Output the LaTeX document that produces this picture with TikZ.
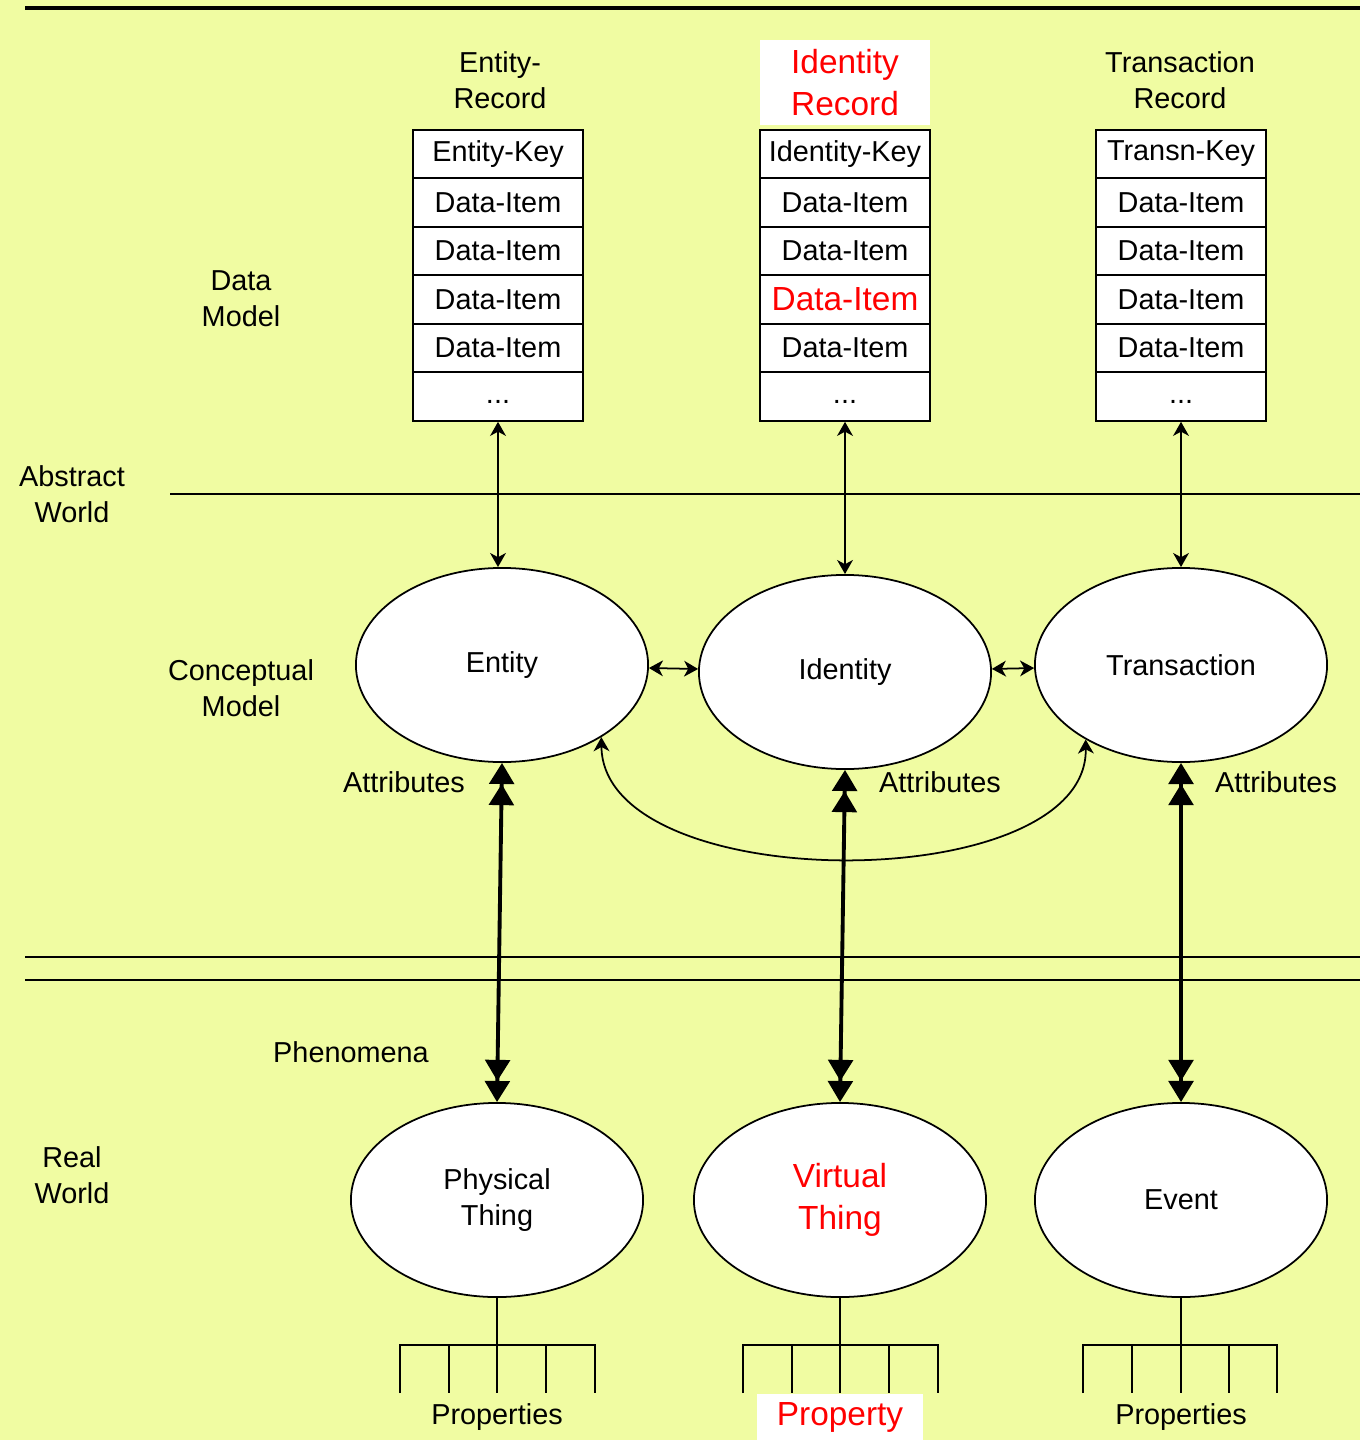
\documentclass[tikz,border=0pt]{standalone}
\usepackage{fontspec}
\setmainfont{Liberation Sans}
\usetikzlibrary{shapes.geometric,arrows.meta}
\definecolor{bgyellow}{RGB}{240,252,162}
\definecolor{hired}{RGB}{255,0,0}
\tikzset{
  cell/.style={draw=black, line width=0.6pt, fill=white, minimum width=1.7cm,
    minimum height=0.485cm, inner sep=0pt, font=\fontsize{8.2}{10.2}\selectfont},
  dotcell/.style={cell, text height=1.3mm, text depth=0mm},
  blob/.style={ellipse, draw=black, line width=0.5pt, fill=white, minimum width=2.92cm,
    minimum height=1.94cm, inner sep=0pt, align=center, font=\fontsize{8.2}{10.2}\selectfont},
  lbl/.style={align=center, inner sep=0pt, font=\fontsize{8.2}{10.2}\selectfont},
  redlbl/.style={align=center, inner sep=0pt, text=hired, fill=white,
    font=\fontsize{9.5}{12}\selectfont},
  thinlink/.style={line width=0.5pt,
    arrows={Stealth[length=4pt,width=4.5pt,inset=1.2pt]-Stealth[length=4pt,width=4.5pt,inset=1.2pt]}},
  thicklink/.style={line width=1.1pt,
    arrows={Triangle[length=6pt,width=7pt]Triangle[length=6pt,width=7pt]-Triangle[length=6pt,width=7pt]Triangle[length=6pt,width=7pt]}},
  rule/.style={line width=0.6pt}
}
\begin{document}
\begin{tikzpicture}[x=0.01cm, y=0.01cm]
\useasboundingbox (0,0) rectangle (1360,-1440);
\fill [bgyellow] (0,0) rectangle (1360,-1440);
% rules
\draw [rule, line width=0.9pt] (25,-8) -- (1360,-8);
\draw [rule] (170,-494) -- (1360,-494);
\draw [rule] (25,-957) -- (1360,-957);
\draw [rule] (25,-980) -- (1360,-980);
% side labels
\node [lbl] (datamodel) at (241,-299) {Data\\Model};
\node [lbl] (abstract) at (72,-494) {Abstract\\World};
\node [lbl] (conceptual) at (241,-688) {Conceptual\\Model};
\node [lbl] (realworld) at (72,-1175) {Real\\World};
\node [lbl] (phenomena) at (351,-1052) {Phenomena};
% record titles
\node [lbl] (enttitle) at (500,-80) {Entity-\\Record};
\node [redlbl, minimum width=1.7cm, minimum height=0.85cm] (idtitle) at (845,-82.5) {Identity\\Record};
\node [lbl] (trtitle) at (1180,-80) {Transaction\\Record};
% entity record
\node [cell] (entkey) at (498,-154) {Entity-Key};
\node [cell] (entd1) at (498,-202.5) {Data-Item};
\node [cell] (entd2) at (498,-251) {Data-Item};
\node [cell] (entd3) at (498,-299.5) {Data-Item};
\node [cell] (entd4) at (498,-348) {Data-Item};
\node [dotcell] (entdots) at (498,-396.5) {...};
% identity record
\node [cell] (idkey) at (845,-154) {Identity-Key};
\node [cell] (idd1) at (845,-202.5) {Data-Item};
\node [cell] (idd2) at (845,-251) {Data-Item};
\node [cell, text=hired, font=\fontsize{9.5}{12}\selectfont] (idd3) at (845,-299.5) {Data-Item};
\node [cell] (idd4) at (845,-348) {Data-Item};
\node [dotcell] (iddots) at (845,-396.5) {...};
% transaction record
\node [cell] (trkey) at (1181,-154) {Transn-Key};
\node [cell] (trd1) at (1181,-202.5) {Data-Item};
\node [cell] (trd2) at (1181,-251) {Data-Item};
\node [cell] (trd3) at (1181,-299.5) {Data-Item};
\node [cell] (trd4) at (1181,-348) {Data-Item};
\node [dotcell] (trdots) at (1181,-396.5) {...};
% conceptual model
\node [blob] (ent) at (502,-665) {Entity};
\node [blob] (ident) at (845,-672) {Identity};
\node [blob] (trans) at (1181,-665) {Transaction};
% real world
\node [blob] (phys) at (497,-1200) {Physical\\Thing};
\node [blob, text=hired, font=\fontsize{9.5}{12}\selectfont] (virt) at (840,-1200) {Virtual\\Thing};
\node [blob] (event) at (1181,-1200) {Event};
% attribute labels
\node [lbl] (entattr) at (404,-782) {Attributes};
\node [lbl] (idattr) at (940,-782) {Attributes};
\node [lbl] (trattr) at (1276,-782) {Attributes};
% record to concept
\draw [thinlink] (entdots.south) -- (entdots.south |- ent.north);
\draw [thinlink] (iddots.south) -- (ident.north);
\draw [thinlink] (trdots.south) -- (trans.north);
\draw [thinlink] (ent) -- (ident);
\draw [thinlink] (ident) -- (trans);
\draw [thinlink] (ent.-36) .. controls (603,-898) and (1088,-898) .. (trans.-142);
% concept to phenomena
\draw [thicklink] (ent.south) -- (phys.north);
\draw [thicklink] (ident.south) -- (virt.north);
\draw [thicklink] (trans.south) -- (event.north);
% properties
\draw [rule] (phys.south) -- (497,-1345);
\draw [rule] (400,-1393) -- (400,-1345) -- (595,-1345) -- (595,-1393);
\draw [rule] (449,-1345) -- (449,-1393);
\draw [rule] (497,-1345) -- (497,-1393);
\draw [rule] (546,-1345) -- (546,-1393);
\draw [rule] (virt.south) -- (840,-1345);
\draw [rule] (743,-1393) -- (743,-1345) -- (938,-1345) -- (938,-1393);
\draw [rule] (792,-1345) -- (792,-1393);
\draw [rule] (840,-1345) -- (840,-1393);
\draw [rule] (889,-1345) -- (889,-1393);
\draw [rule] (event.south) -- (1181,-1345);
\draw [rule] (1083,-1393) -- (1083,-1345) -- (1277,-1345) -- (1277,-1393);
\draw [rule] (1132,-1345) -- (1132,-1393);
\draw [rule] (1181,-1345) -- (1181,-1393);
\draw [rule] (1229,-1345) -- (1229,-1393);
\node [lbl] (entprops) at (497,-1417) {Properties};
\node [redlbl, minimum width=1.65cm, minimum height=0.47cm] (virtprop) at (840,-1417) {Property};
\node [lbl] (trprops) at (1181,-1417) {Properties};
\end{tikzpicture}
\end{document}
